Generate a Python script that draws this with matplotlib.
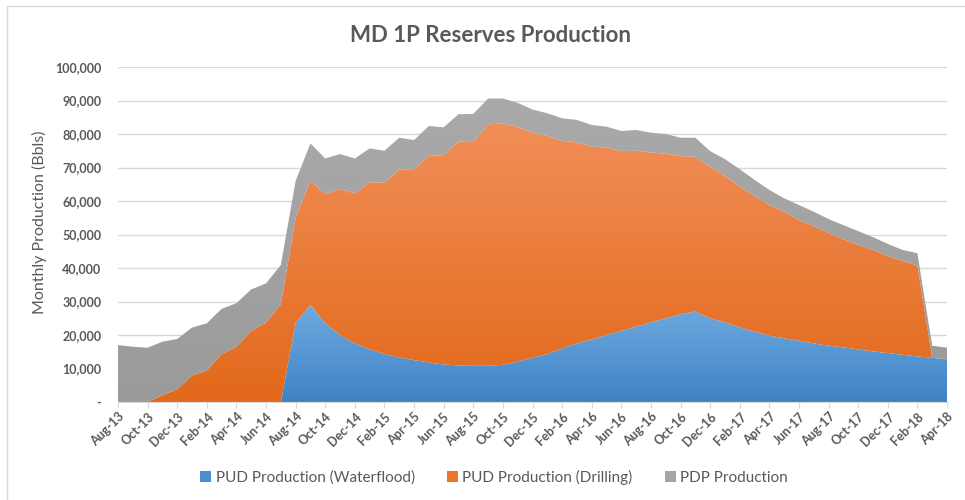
import numpy as np
import pandas as pd
import matplotlib
matplotlib.use("Agg")
import matplotlib.pyplot as plt
from matplotlib.colors import LinearSegmentedColormap
from matplotlib.patches import Patch
from matplotlib.ticker import FuncFormatter

# ---------------- data ----------------
months = pd.date_range("2013-08-01", periods=57, freq="MS").strftime("%b-%y").tolist()

waterflood = [0, 0, 0, 0, 0, 0, 0, 0, 0, 0, 0, 0,
              23600, 29000, 23500, 20000, 17500, 15700, 14300, 13300, 12500, 11800,
              11200, 10900, 10800, 10800, 11100, 12100, 13200, 14300, 16000, 17500,
              18700, 20000, 21200, 22500, 23800, 25000, 26200, 27000, 25000, 23800,
              22300, 21000, 19800, 19000, 18300, 17500, 16800, 16300, 15700, 15100,
              14600, 14100, 13600, 13200, 12700]

drilling = [0, 0, 0, 2000, 3800, 7900, 9400, 14300, 16500, 21200, 23700, 29200,
            31400, 37000, 38500, 43600, 44800, 49900, 51200, 56100, 57000, 61700,
            62500, 66800, 66800, 72100, 72000, 70000, 67200, 65100, 62000, 60000,
            57500, 56000, 53700, 52500, 50700, 49100, 47200, 46200, 45200, 43700,
            42000, 40500, 39000, 37800, 36000, 35000, 33600, 32300, 31200, 30300,
            29000, 28000, 27200, 0, 0]

pdp = [17000, 16500, 16200, 16000, 15000, 14300, 14100, 13500, 13000, 12400, 11700, 11700,
       11000, 11200, 10700, 10400, 10400, 10100, 9500, 9500, 8700, 8900,
       8300, 8200, 8400, 7700, 7500, 7200, 6900, 6800, 6700, 6700,
       6500, 6200, 6000, 6200, 5900, 5900, 5500, 5700, 4700, 5000,
       5200, 4800, 4500, 4000, 4500, 4300, 4200, 4200, 4100, 3800,
       3600, 3300, 3600, 3600, 3500]

series_names = ["PUD Production (Waterflood)", "PUD Production (Drilling)", "PDP Production"]

# ---------------- style ----------------
FONT = "Lato"
TXT = "#595959"
GRID = "#D9D9D9"
grads = [("#3F83C5", "#6FAAE0"),   # waterflood bottom/top
         ("#E2691A", "#F18E58"),   # drilling
         ("#9A9A9A", "#AAAAAA")]   # pdp
legend_cols = ["#4A8FD3", "#EE7626", "#A5A5A5"]

fig = plt.figure(figsize=(9.65, 5.0), dpi=100)
ax = fig.add_axes([118/965, 1-402/500, (947-118)/965, (402-67)/500])

x = np.arange(len(months))
w = np.array(waterflood, float)
d = np.array(drilling, float)
p = np.array(pdp, float)
layers = [(np.zeros_like(w), w), (w, w + d), (w + d, w + d + p)]

grad_img = np.linspace(0, 1, 256).reshape(-1, 1)
for i, (lo, hi) in enumerate(layers):
    poly = ax.fill_between(x, lo, hi, facecolor="none", edgecolor="none", zorder=2 + i)
    cmap = LinearSegmentedColormap.from_list("g%d" % i, [grads[i][0], grads[i][1]])
    im = ax.imshow(grad_img, extent=[x[0], x[-1], 0, hi.max()], origin="lower",
                   aspect="auto", cmap=cmap, zorder=2 + i, interpolation="bilinear")
    im.set_clip_path(poly.get_paths()[0], transform=ax.transData)

ax.set_xlim(0, len(months) - 1)
ax.set_ylim(0, 100000)
ax.set_yticks(np.arange(0, 100001, 10000))
ax.yaxis.set_major_formatter(FuncFormatter(lambda v, _: "-" if v == 0 else f"{int(v):,}"))
ax.grid(axis="y", color=GRID, linewidth=1.0, zorder=0)
ax.set_axisbelow(True)

ax.set_xticks(x[::2])
ax.set_xticklabels(months[::2], rotation=45, ha="right", va="top", rotation_mode="anchor",
                   fontsize=9, fontweight="bold", color=TXT, family=FONT)
for lab in ax.get_yticklabels():
    lab.set_fontsize(9)
    lab.set_fontweight("bold")
    lab.set_color(TXT)
    lab.set_family(FONT)

ax.tick_params(axis="x", length=4, color=GRID, pad=2)
ax.tick_params(axis="y", length=0, pad=12)
for s in ["top", "right", "left"]:
    ax.spines[s].set_visible(False)
ax.spines["bottom"].set_color(GRID)
ax.spines["bottom"].set_zorder(6)

ax.set_ylabel("Monthly Production (Bbls)", fontsize=11.5, color=TXT, family=FONT)
ax.yaxis.set_label_coords((47 - 118) / (947 - 118), (402 - 222) / (402 - 67))

fig.text(491/965, 1-35/500, "MD 1P Reserves Production", ha="center", va="center",
         fontsize=16, fontweight="bold", color=TXT, family=FONT)

handles = [Patch(facecolor=c, edgecolor="none") for c in legend_cols]
fig.legend(handles, series_names, loc="center", bbox_to_anchor=(494/965, 1-477/500), ncol=3,
           frameon=False, handlelength=0.72, handleheight=0.72, handletextpad=0.3,
           columnspacing=2.1, prop={"family": FONT, "size": 11}, labelcolor=TXT)

# chart border
fig.add_artist(plt.Rectangle((7/965, -0.1), 1.2, 1 - 6/500 + 0.1, transform=fig.transFigure,
                             fill=False, edgecolor=GRID, linewidth=1.0))

fig.savefig("out.png", dpi=100, facecolor="white")
